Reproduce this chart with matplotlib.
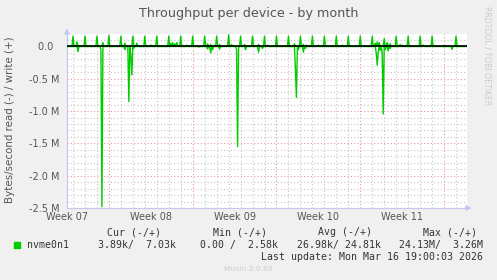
import numpy as np
import matplotlib.pyplot as plt
from matplotlib.patches import Rectangle

# Dane (dni od pierwszej linii siatki, wartosci w MB/s)
spike_days = [0, 1, 2, 3, 4, 5, 6, 7, 8, 9, 10, 11, 12, 13, 14, 15, 16,
              17, 18, 19, 20, 21, 22, 23, 24, 25, 26, 27, 28, 29, 30, 32]
spike_vals = [0.16, 0.16, 0.16, 0.17, 0.16, 0.16, 0.16, 0.16, 0.16, 0.16, 0.16,
              0.16, 0.16, 0.18, 0.16, 0.16, 0.16, 0.16, 0.16, 0.16, 0.16, 0.16,
              0.16, 0.16, 0.16, 0.16, 0.12, 0.16, 0.16, 0.16, 0.16, 0.16]

bump_days = [0.33, 2.5, 4.33, 5.33, 6.5, 8.17, 8.33, 8.5, 8.67, 9.5, 11.25, 11.5,
             12.25, 13.25, 14.33, 15.5, 16.25, 18.5, 19.25, 19.5, 20.5, 22.5,
             25.25, 25.42, 25.58, 26.25, 26.5, 27.33, 27.5, 29.25]
bump_vals = [0.07, 0.06, 0.05, 0.05, 0.02, 0.05, 0.06, 0.04, 0.06, 0.02, 0.04, 0.03,
             0.03, 0.03, 0.03, 0.03, 0.02, 0.04, 0.03, 0.02, 0.02, 0.02,
             0.05, 0.07, 0.06, 0.06, 0.04, 0.03, 0.02, 0.02]

read_days = [0.42, 2.33, 2.42, 4.33, 4.67, 4.83, 4.92, 5.08, 10.5, 11.25, 11.5,
             11.67, 12.25, 13.67, 13.75, 13.83, 14.42, 15.5, 15.83, 18.58, 18.67,
             18.83, 19.25, 19.42, 25.33, 25.42, 25.5, 25.67, 25.83, 25.92, 26.08,
             26.33, 26.5, 31.67]
read_vals = [-0.08, -0.05, -2.48, -0.05, -0.855, -0.15, -0.44, -0.03, -0.01, -0.04, -0.1,
             -0.05, -0.04, -0.05, -1.55, -0.02, -0.05, -0.09, -0.03, -0.35, -0.79,
             -0.05, -0.09, -0.03, -0.1, -0.29, -0.08, -0.06, -0.1, -1.045, -0.05,
             -0.07, -0.03, -0.045]

week_starts = [3, 10, 17, 24, 31]
week_labels = ['Week 07', 'Week 08', 'Week 09', 'Week 10', 'Week 11']
week_label_pos = [-0.5, 6.5, 13.5, 20.5, 27.5]

y_ticks = [0.0, -0.5, -1.0, -1.5, -2.0, -2.5]
y_tick_labels = ['0.0\u2007', '-0.5 M', '-1.0 M', '-1.5 M', '-2.0 M', '-2.5 M']

legend_headers = ['Cur (-/+)', 'Min (-/+)', 'Avg (-/+)', 'Max (-/+)']
legend_values = ['3.89k/  7.03k', '0.00 /  2.58k', '26.98k/ 24.81k', '24.13M/  3.26M']

# probki co 2 godziny (1 piksel = 1 probka)
n = 400
t = (np.arange(n) - 5) / 12
write = np.zeros(n)
read = np.zeros(n)
for d, v in zip(spike_days, spike_vals):
    write[int(round(d * 12)) + 5] = v
for d, v in zip(bump_days, bump_vals):
    write[int(round(d * 12)) + 5] = v
for d, v in zip(read_days, read_vals):
    read[int(round(d * 12)) + 5] = v

W, H = 497, 280
fig = plt.figure(figsize=(W / 100, H / 100), dpi=100, facecolor='#f0f0f0')
ax = fig.add_axes([67 / W, 1 - 208 / H, 400 / W, 174.5 / H])
ax.set_facecolor('white')

x0, x1 = -5 / 12, 395 / 12
ax.set_xlim(x0, x1)
ax.set_ylim(-2.5, 0.2)

# siatka
grey = '#c6c6c6'
red = '#e89595'
for d in range(33):
    if d not in week_starts:
        ax.axvline(d, color=grey, ls=(0, (1, 2)), lw=0.8, zorder=1)
for d in week_starts:
    ax.axvline(d, color=red, ls=(0, (1, 2)), lw=0.8, zorder=1)
for yv in np.arange(-2.4, 0.25, 0.1):
    if abs(yv * 2 - round(yv * 2)) > 1e-6:
        ax.axhline(yv, color=grey, ls=(0, (1, 2)), lw=0.8, zorder=1)
for yv in y_ticks[1:]:
    ax.axhline(yv, color=red, ls=(0, (1, 2)), lw=0.8, zorder=1)

ax.plot(t, write, color='#00cc00', lw=1.0, zorder=3)
ax.plot(t, read, color='#00cc00', lw=1.0, zorder=3)
ax.axhline(0, color='black', lw=1.2, zorder=4)

# osie
for s in ['top', 'right']:
    ax.spines[s].set_visible(False)
for s in ['left', 'bottom']:
    ax.spines[s].set_color('#c4c8f0')
    ax.spines[s].set_linewidth(0.8)
ax.annotate('', xy=(0, 1.045), xytext=(0, 0.99), xycoords='axes fraction',
            arrowprops=dict(arrowstyle='-|>', color='#c4c8f0', lw=0.8, mutation_scale=8))
ax.annotate('', xy=(1.018, 0), xytext=(0.99, 0), xycoords='axes fraction',
            arrowprops=dict(arrowstyle='-|>', color='#c4c8f0', lw=0.8, mutation_scale=8))

ax.set_xticks(week_label_pos, labels=week_labels)
ax.set_yticks(y_ticks, labels=y_tick_labels)
ax.tick_params(axis='x', length=0, pad=3, labelsize=7, labelcolor='#555555')
ax.tick_params(axis='y', length=0, pad=5.5, labelsize=7, labelcolor='#555555')


def ftext(x, y, s, **kw):
    fig.text(x / W, 1 - y / H, s, **kw)


ftext(248.5, 13, 'Throughput per device - by month', ha='center', va='center',
      fontsize=9.2, color='#555555')
ftext(10.5, 120, 'Bytes/second read (-) / write (+)', ha='center', va='center',
      rotation=90, fontsize=7.4, color='#555555')
ftext(487, 56, 'RRDTOOL / TOBI OETIKER', ha='center', va='center', rotation=270,
      fontsize=5.6, color='#cccccc')

# legenda
mono = dict(family='DejaVu Sans Mono', fontsize=7.1, color='#333333', va='center')
for x, s in zip([107.3, 213.3, 317.7, 422.7], legend_headers):
    ftext(x, 232.3, s, ha='left', **mono)
fig.patches.append(Rectangle((14 / W, 1 - 248 / H), 6 / W, 6 / H,
                             transform=fig.transFigure, color='#00cc00'))
ftext(26.7, 245, 'nvme0n1', ha='left', **mono)
for x, s in zip([175.7, 278, 380.7, 482.7], legend_values):
    ftext(x, 245, s, ha='right', **mono)
ftext(482.7, 256.7, 'Last update: Mon Mar 16 19:00:03 2026', ha='right', **mono)
ftext(248.5, 269, 'Munin 2.0.69', ha='center', va='center', fontsize=5.3, color='#cccccc')

fig.savefig('out.png', dpi=100, facecolor=fig.get_facecolor())
